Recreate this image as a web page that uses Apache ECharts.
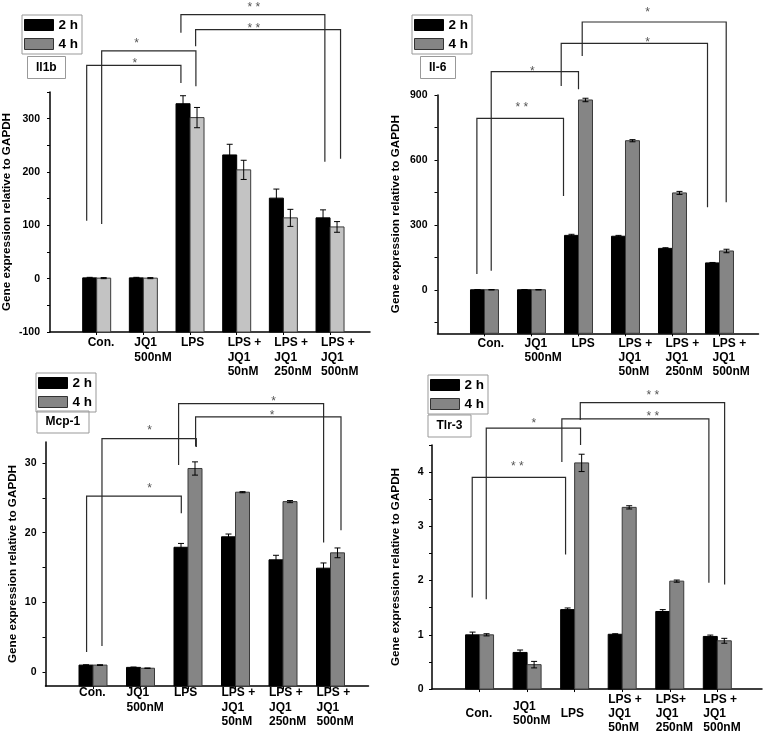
<!DOCTYPE html>
<html><head><meta charset="utf-8">
<script src="https://cdn.jsdelivr.net/npm/echarts@6/dist/echarts.min.js"></script>
<style>html,body{margin:0;padding:0;background:#fff}#chart{width:778px;height:735px}</style>
</head><body><div id="chart"></div>
<script>
// ================= DATA =================
const xPositions = [1, 2, 3, 4, 5, 6];
const categoriesStd = ['Con.', 'JQ1\n500nM', 'LPS', 'LPS +\nJQ1\n50nM', 'LPS +\nJQ1\n250nM', 'LPS +\nJQ1\n500nM'];
const categoriesTlr3 = ['Con.', 'JQ1\n500nM', 'LPS', 'LPS +\nJQ1\n50nM', 'LPS+\nJQ1\n250nM', 'LPS +\nJQ1\n500nM'];
const seriesNames = ['2 h', '4 h'];
const yAxisName = 'Gene expression relative to GAPDH';
const geneNames = ['Il1b', 'Il-6', 'Mcp-1', 'Tlr-3'];

// Il1b
const il1b2h = [1.5, 1.5, 328, 232, 151, 114];
const il1b4h = [1, 1, 302, 204, 114, 97];
const il1b2hErr = [1, 1, 15, 20, 17, 15];
const il1b4hErr = [1, 1, 19, 18, 16, 10];
const il1bTicks = [-100, -50, 0, 50, 100, 150, 200, 250, 300, 350];
const il1bTickLabels = [-100, 0, 100, 200, 300];
// brackets: [x1, yLow1, x2, yLow2, yTop, starX, starY]
const il1bBrackets = [
  [0.786, 108.6, 2.805, 367, 400, 1.82, 409],
  [1.107, 102.4, 3.126, 361, 427, 1.857, 447],
  [2.805, 461, 5.889, 219, 495, 4.368, 514],
  [3.12, 436, 6.225, 225, 467, 4.368, 475]
];
const il1bStars = ['*', '*', '* *', '* *'];

// Il-6
const il62h = [1, 1, 252, 248, 192, 125];
const il64h = [1, 1, 877, 689, 448, 180];
const il62hErr = [1, 1, 5, 4, 3, 2];
const il64hErr = [1, 1, 8, 5, 7, 8];
const il6Ticks = [-150, 0, 150, 300, 450, 600, 750, 900];
const il6TickLabels = [0, 300, 600, 900];
const il6Brackets = [
  [0.838, 73.8, 2.681, 434, 792, 1.796, 857],
  [1.143, 89, 3.0, 926, 1007.5, 2.02, 1023],
  [2.632, 941.5, 5.745, 381.7, 1138.6, 4.468, 1157],
  [3.079, 1080, 6.143, 404.8, 1237, 4.468, 1292]
];
const il6Stars = ['* *', '*', '*', '*'];

// Mcp-1
const mcp12h = [1.0, 0.67, 17.9, 19.4, 16.1, 14.9];
const mcp14h = [1.0, 0.55, 29.2, 25.8, 24.45, 17.1];
const mcp12hErr = [0.05, 0.05, 0.55, 0.4, 0.65, 0.75];
const mcp14hErr = [0.05, 0.03, 0.95, 0.08, 0.15, 0.7];
const mcp1Ticks = [0, 5, 10, 15, 20, 25, 30];
const mcp1TickLabels = [0, 10, 20, 30];
const mcp1Brackets = [
  [0.865, 2.87, 2.859, 22.77, 25.25, 2.19, 26.8],
  [1.189, 3.73, 3.175, 32.28, 33.49, 2.19, 35.06],
  [2.802, 29.7, 5.855, 18.57, 38.5, 4.80, 39.2],
  [3.16, 32.34, 6.221, 20.33, 36.59, 4.77, 37.2]
];
const mcp1Stars = ['*', '*', '*', '*'];

// Tlr-3
const tlr32h = [1.0, 0.675, 1.465, 1.01, 1.43, 0.97];
const tlr34h = [1.0, 0.45, 4.17, 3.35, 1.99, 0.89];
const tlr32hErr = [0.05, 0.045, 0.03, 0.01, 0.035, 0.025];
const tlr34hErr = [0.02, 0.06, 0.16, 0.03, 0.02, 0.045];
const tlr3Ticks = [0, 0.5, 1, 1.5, 2, 2.5, 3, 3.5, 4, 4.5];
const tlr3TickLabels = [0, 1, 2, 3, 4];
const tlr3Brackets = [
  [0.846, 1.686, 2.809, 2.48, 3.903, 1.793, 4.149],
  [1.141, 1.654, 3.124, 4.50, 4.81, 2.142, 4.95],
  [2.731, 4.186, 5.823, 1.961, 4.982, 4.645, 5.086],
  [3.118, 4.963, 6.154, 1.93, 5.281, 4.645, 5.472]
];
const tlr3Stars = ['* *', '*', '* *', '* *'];

// ================= LAYOUT / STYLE =================
const FONT = '"Liberation Sans", Arial, Helvetica, sans-serif';
const BAR_W = 14;
const panels = [
  { name: geneNames[0], cats: categoriesStd, v2: il1b2h, v4: il1b4h, e2: il1b2hErr, e4: il1b4hErr,
    ticks: il1bTicks, labels: il1bTickLabels, brackets: il1bBrackets, stars: il1bStars,
    grid: { left: 49.5, top: 92, width: 320.5, height: 240 }, xMax: 6.856, yMin: -100, yMax: 350,
    grey: '#c3c3c3', nameGap: 37, yLabelMargin: 10, xLabelMargin: 4, xShift: -9, xVAlign: 'top',
    legend: { left: 22, top: 15 }, title: { left: 27, top: 56 } },
  { name: geneNames[1], cats: categoriesStd, v2: il62h, v4: il64h, e2: il62hErr, e4: il64hErr,
    ticks: il6Ticks, labels: il6TickLabels, brackets: il6Brackets, stars: il6Stars,
    grid: { left: 437.5, top: 95, width: 321, height: 238.3 }, xMax: 6.83, yMin: -200, yMax: 900,
    grey: '#858585', nameGap: 36, yLabelMargin: 10, xLabelMargin: 3, xShift: -7, xVAlign: 'top',
    legend: { left: 412, top: 15 }, title: { left: 420, top: 56 } },
  { name: geneNames[2], cats: categoriesStd, v2: mcp12h, v4: mcp14h, e2: mcp12hErr, e4: mcp14hErr,
    ticks: mcp1Ticks, labels: mcp1TickLabels, brackets: mcp1Brackets, stars: mcp1Stars,
    grid: { left: 45.5, top: 442, width: 323, height: 244 }, xMax: 6.8, yMin: -2, yMax: 33,
    grey: '#858585', nameGap: 27, yLabelMargin: 9, xLabelMargin: 0, xShift: -14, xVAlign: 'top',
    legend: { left: 36, top: 373 }, title: { left: 36.5, top: 410.5 } },
  { name: geneNames[3], cats: categoriesTlr3, v2: tlr32h, v4: tlr34h, e2: tlr32hErr, e4: tlr34hErr,
    ticks: tlr3Ticks, labels: tlr3TickLabels, brackets: tlr3Brackets, stars: tlr3Stars,
    grid: { left: 432, top: 445, width: 330, height: 245 }, xMax: 6.94, yMin: 0, yMax: 4.5,
    grey: '#858585', nameGap: 30, yLabelMargin: 8.5, xLabelMargin: 24.5, xShift: -14, xVAlign: 'middle',
    legend: { left: 428, top: 375 }, title: { left: 427.5, top: 414.5 } }
];

function barRenderer(offset, fill, stroke) {
  return function (params, api) {
    const x = api.value(0), v = api.value(1), e = api.value(2);
    const top = api.coord([x, v]);
    const hi = api.coord([x, v + e]);
    const lo = api.coord([x, v - e]);
    const baseY = params.coordSys.y + params.coordSys.height;
    const cx = top[0] + offset;
    const ls = { stroke: '#000', lineWidth: 1 };
    return { type: 'group', children: [
      { type: 'rect', shape: { x: cx - BAR_W / 2, y: top[1], width: BAR_W, height: baseY - top[1] },
        style: { fill: fill, stroke: stroke, lineWidth: 1 } },
      { type: 'line', shape: { x1: cx, y1: hi[1], x2: cx, y2: lo[1] }, style: ls },
      { type: 'line', shape: { x1: cx - 3, y1: hi[1], x2: cx + 3, y2: hi[1] }, style: ls },
      { type: 'line', shape: { x1: cx - 3, y1: lo[1], x2: cx + 3, y2: lo[1] }, style: ls }
    ] };
  };
}

function bracketRenderer(stars) {
  return function (params, api) {
    const a = api.coord([api.value(0), api.value(1)]);
    const at = api.coord([api.value(0), api.value(4)]);
    const bt = api.coord([api.value(2), api.value(4)]);
    const b = api.coord([api.value(2), api.value(3)]);
    const s = api.coord([api.value(5), api.value(6)]);
    return { type: 'group', children: [
      { type: 'polyline', shape: { points: [a, at, bt, b] }, style: { stroke: '#2a2a2a', lineWidth: 1.2, fill: null } },
      { type: 'text', x: s[0], y: s[1] + 3,
        style: { text: stars[params.dataIndex], fill: '#555', font: '12px ' + FONT, align: 'center', verticalAlign: 'middle' } }
    ] };
  };
}

const option = { animation: false, backgroundColor: '#fff', grid: [], xAxis: [], yAxis: [], series: [], legend: [], title: [] };

panels.forEach(function (p, i) {
  option.grid.push(Object.assign({ containLabel: false }, p.grid));
  option.xAxis.push({
    type: 'value', gridIndex: i, min: 0, max: p.xMax,
    axisLine: { show: true, onZero: false, lineStyle: { color: '#000', width: 1.5 } },
    axisTick: { show: true, customValues: xPositions, length: 3, lineStyle: { color: '#000', width: 1 } },
    axisLabel: { customValues: xPositions, formatter: function (v) { return p.cats[Math.round(v) - 1] || ''; },
      align: 'left', verticalAlign: p.xVAlign, padding: [0, 0, 0, p.xShift], margin: p.xLabelMargin,
      fontSize: 12, fontWeight: 'bold', lineHeight: 14.3, color: '#000', fontFamily: FONT },
    splitLine: { show: false }
  });
  option.yAxis.push({
    type: 'value', gridIndex: i, min: p.yMin, max: p.yMax,
    axisLine: { show: true, onZero: false, lineStyle: { color: '#000', width: 1.5 } },
    axisTick: { show: true, customValues: p.ticks, length: 3, lineStyle: { color: '#000', width: 1 } },
    axisLabel: { customValues: p.labels, margin: p.yLabelMargin, fontSize: 10.5, fontWeight: 'bold', color: '#000', fontFamily: FONT },
    splitLine: { show: false },
    name: yAxisName, nameLocation: 'middle', nameGap: p.nameGap,
    nameTextStyle: { fontSize: 11.7, fontWeight: 'bold', color: '#000', fontFamily: FONT }
  });
  option.series.push({
    type: 'custom', name: seriesNames[0], xAxisIndex: i, yAxisIndex: i, clip: false,
    itemStyle: { color: '#000' }, encode: { x: 0, y: 1 },
    data: xPositions.map(function (x, k) { return [x, p.v2[k], p.e2[k]]; }),
    renderItem: barRenderer(-BAR_W / 2, '#000', '#000')
  });
  option.series.push({
    type: 'custom', name: seriesNames[1], xAxisIndex: i, yAxisIndex: i, clip: false,
    itemStyle: { color: '#858585' }, encode: { x: 0, y: 1 },
    data: xPositions.map(function (x, k) { return [x, p.v4[k], p.e4[k]]; }),
    renderItem: barRenderer(BAR_W / 2, p.grey, '#3a3a3a')
  });
  option.series.push({
    type: 'custom', name: 'sig' + i, xAxisIndex: i, yAxisIndex: i, clip: false, z: 5,
    encode: { x: [0, 2, 5], y: [1, 3, 4, 6] },
    data: p.brackets,
    renderItem: bracketRenderer(p.stars)
  });
  option.legend.push({
    left: p.legend.left, top: p.legend.top, orient: 'vertical', selectedMode: false,
    data: [
      { name: seriesNames[0], itemStyle: { color: '#000', borderColor: '#000', borderWidth: 1 } },
      { name: seriesNames[1], itemStyle: { color: '#858585', borderColor: '#333', borderWidth: 1 } }
    ],
    icon: 'rect', itemWidth: 29, itemHeight: 11, itemGap: 5,
    padding: [3, 4, 3, 2], borderColor: '#999', borderWidth: 1,
    textStyle: { fontSize: 13.5, fontWeight: 'bold', color: '#000', fontFamily: FONT, lineHeight: 13 }
  });
  option.title.push({
    text: p.name, left: p.title.left, top: p.title.top,
    padding: [5, 9], borderColor: '#999', borderWidth: 1,
    textStyle: { fontSize: 12, fontWeight: 'bold', color: '#000', fontFamily: FONT, lineHeight: 13 }
  });
});

const chart = echarts.init(document.getElementById('chart'), null, { renderer: 'canvas' });
chart.setOption(option);
</script></body></html>
